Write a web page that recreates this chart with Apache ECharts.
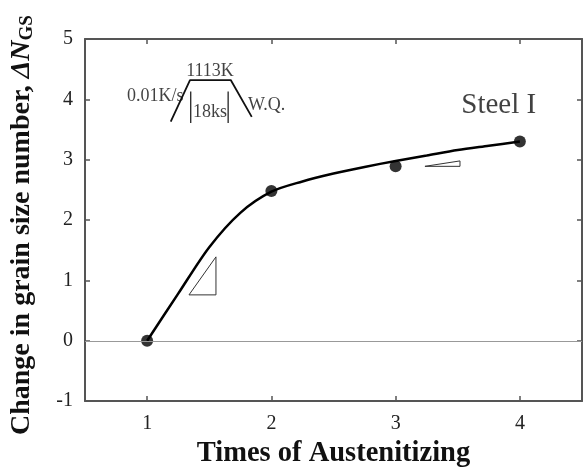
<!DOCTYPE html>
<html><head><meta charset="utf-8">
<script src="https://cdn.jsdelivr.net/npm/echarts@6/dist/echarts.min.js"></script>
<style>html,body{margin:0;padding:0;background:#fff}#c{width:586px;height:473px}</style>
</head><body><div id="c"></div>
<script>
// measured data
const timesX = [1, 2, 3, 4];
const deltaN = [0, 2.48, 2.89, 3.30];
// fitted curve
const fitX = [1, 1.25, 1.5, 1.75, 2, 2.25, 2.5, 2.75, 3, 3.25, 3.5, 3.75, 4];
const fitY = [0, 0.78, 1.55, 2.12, 2.47, 2.64, 2.77, 2.88, 2.98, 3.07, 3.16, 3.23, 3.30];
// tick labels
const xTicks = [1, 2, 3, 4];
// slope triangles (data coords)
const tri1X = [1.337, 1.554, 1.554, 1.337];
const tri1Y = [0.76, 0.76, 1.39, 0.76];
const tri2X = [3.236, 3.518, 3.518, 3.236];
const tri2Y = [2.89, 2.89, 2.98, 2.89];
// heat treatment inset (data coords)
const cycleX = [1.190, 1.345, 1.673, 1.842];
const cycleY = [3.63, 4.32, 4.32, 3.71];
const holdLineX = [1.351, 1.652];
const holdLineY = [4.13, 3.61];
const labelTexts = ['1113K', '18ks', '0.01K/s', 'W.Q.', 'Steel I'];
const labelX = [1.506, 1.506, 1.292, 1.812, 3.83];
const labelY = [4.47, 3.79, 4.05, 3.90, 3.90];

const zip = (a, b) => a.map((v, i) => [v, b[i]]);
const serif = '"Liberation Serif","DejaVu Serif",serif';
const axisCol = '#555';

const chart = echarts.init(document.getElementById('c'), null, {renderer: 'canvas'});
const labelAligns = ['center', 'center', 'right', 'left', 'center'];
const labelSizes = [18, 18, 18, 18, 29];

const series = [
  {
    type: 'line', data: zip(fitX, fitY), smooth: 0.3, symbol: 'none',
    lineStyle: {color: '#000', width: 2.5}, silent: true, z: 3
  },
  {
    type: 'scatter', data: zip(timesX, deltaN), symbolSize: 12,
    itemStyle: {color: '#000'}, z: 4,
    markLine: {
      silent: true, symbol: 'none', label: {show: false},
      lineStyle: {color: '#999', width: 1, type: 'solid'},
      data: [{yAxis: 0}]
    }
  },
  {type: 'line', data: zip(tri1X, tri1Y), symbol: 'none', lineStyle: {color: '#333', width: 1}, silent: true},
  {type: 'line', data: zip(tri2X, tri2Y), symbol: 'none', lineStyle: {color: '#333', width: 1}, silent: true},
  {type: 'line', data: zip(cycleX, cycleY), symbol: 'none', lineStyle: {color: '#111', width: 1.8}, silent: true},
  {type: 'line', data: [[holdLineX[0], holdLineY[0]], [holdLineX[0], holdLineY[1]]], symbol: 'none', lineStyle: {color: '#111', width: 1.2}, silent: true},
  {type: 'line', data: [[holdLineX[1], holdLineY[0]], [holdLineX[1], holdLineY[1]]], symbol: 'none', lineStyle: {color: '#111', width: 1.2}, silent: true},
  {
    type: 'scatter', symbolSize: 0, silent: true,
    data: labelTexts.map((t, i) => ({
      value: [labelX[i], labelY[i]],
      label: {
        show: true, position: 'inside', formatter: t, align: labelAligns[i], verticalAlign: 'middle',
        fontFamily: serif, fontSize: labelSizes[i], color: '#111'
      }
    }))
  }
];

const commonAxisLine = {show: true, onZero: false, lineStyle: {color: axisCol, width: 2}};
chart.setOption({
  animation: false,
  backgroundColor: '#fff',
  grid: {left: 85, right: 4, top: 39, bottom: 71, containLabel: false},
  xAxis: [
    {
      type: 'value', min: 0.5, max: 4.5, position: 'bottom',
      axisLine: commonAxisLine,
      axisTick: {show: true, inside: true, length: 5, customValues: xTicks, lineStyle: {color: axisCol, width: 1.5}},
      axisLabel: {customValues: xTicks, margin: 13, fontFamily: serif, fontSize: 20, color: '#222'},
      splitLine: {show: false},
      name: 'Times of Austenitizing', nameLocation: 'middle', nameGap: 32,
      nameTextStyle: {fontFamily: serif, fontSize: 28.5, fontWeight: 'bold', color: '#111'}
    },
    {
      type: 'value', min: 0.5, max: 4.5, position: 'top',
      axisLine: commonAxisLine,
      axisTick: {show: true, inside: true, length: 5, customValues: xTicks, lineStyle: {color: axisCol, width: 1.5}},
      axisLabel: {show: false}, splitLine: {show: false}
    }
  ],
  yAxis: [
    {
      type: 'value', min: -1, max: 5, interval: 1, position: 'left',
      axisLine: commonAxisLine,
      axisTick: {show: true, inside: true, length: 5, lineStyle: {color: axisCol, width: 1.5}},
      axisLabel: {margin: 12, fontFamily: serif, fontSize: 20, color: '#222'},
      splitLine: {show: false},
      name: '{b|Change in grain size number, }{i|ΔN}{s|GS}', nameLocation: 'middle', nameGap: 48,
      nameTextStyle: {
        fontFamily: serif, fontSize: 28, fontWeight: 'bold', color: '#111', padding: [0, 10, 0, 0],
        rich: {
          b: {fontFamily: serif, fontSize: 28, fontWeight: 'bold', color: '#111', lineHeight: 30},
          i: {fontFamily: serif, fontSize: 28, fontWeight: 'bold', fontStyle: 'italic', color: '#111', lineHeight: 30},
          s: {fontFamily: serif, fontSize: 19, fontWeight: 'bold', color: '#111', lineHeight: 30, verticalAlign: 'bottom', padding: [8, 0, 0, 0]}
        }
      }
    },
    {
      type: 'value', min: -1, max: 5, interval: 1, position: 'right',
      axisLine: commonAxisLine,
      axisTick: {show: true, inside: true, length: 5, lineStyle: {color: axisCol, width: 1.5}},
      axisLabel: {show: false}, splitLine: {show: false}
    }
  ],
  series: series
});
</script></body></html>
